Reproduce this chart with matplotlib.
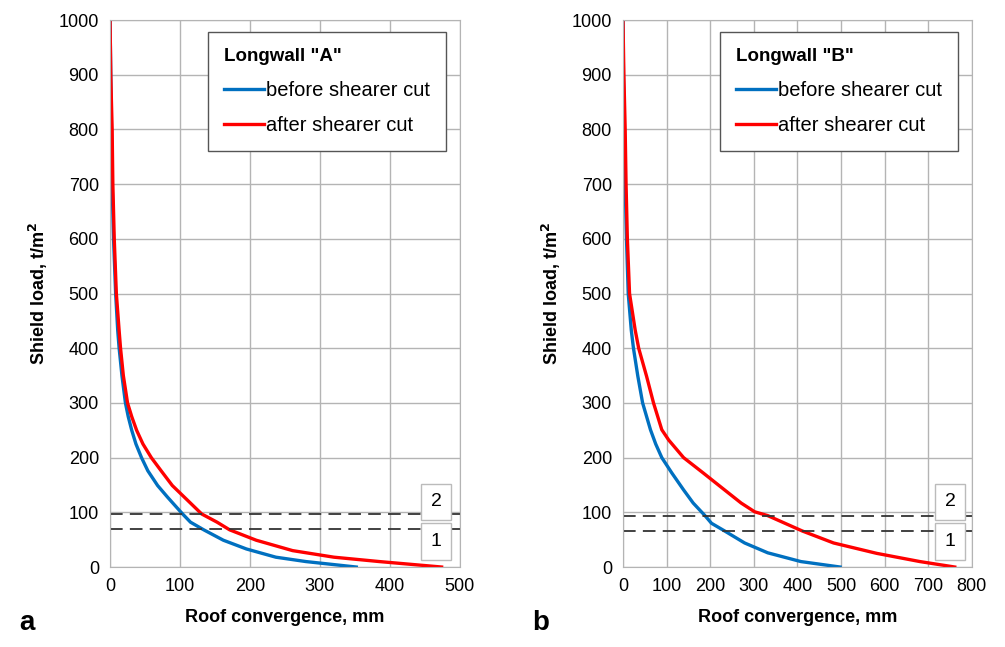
import matplotlib.pyplot as plt
import numpy as np

plt.rcParams['font.family'] = ['Liberation Sans', 'DejaVu Sans']

# Longwall "A": shield load (t/m2) vs roof convergence (mm)
a_before_y = [1000, 900, 800, 700, 600, 500, 432, 400, 350, 300, 275, 250, 225, 200, 176, 149, 128,
              98, 82, 68, 49, 33, 18, 10, 0]
a_before_x = [0, 1, 2, 3, 5, 8, 11, 13, 17, 22, 26, 31, 37, 45, 54, 68, 82,
              103, 115, 134, 162, 195, 237, 280, 352]
a_after_y = [1000, 900, 800, 700, 600, 500, 432, 400, 350, 300, 275, 250, 225, 200, 176, 149, 128,
             97, 82, 68, 49, 30, 18, 10, 0]
a_after_x = [0, 1, 3, 4, 6, 9, 13, 15, 19, 25, 31, 38, 47, 59, 73, 89, 106,
             131, 153, 171, 209, 261, 320, 385, 474]

# Longwall "B"
b_before_y = [1000, 900, 800, 700, 600, 500, 433, 400, 349, 300, 251, 225, 200, 172, 141, 117,
              94, 80, 66, 44, 26, 10, 0]
b_before_x = [0, 1, 3, 5, 8, 12, 19, 24, 34, 45, 63, 75, 89, 112, 139, 161,
              188, 203, 233, 279, 332, 408, 498]
b_after_y = [1000, 900, 800, 700, 600, 500, 433, 400, 349, 300, 251, 232, 200, 172, 141,
             117, 101, 94, 66, 44, 25, 10, 0]
b_after_x = [0, 2, 5, 7, 10, 15, 28, 36, 54, 70, 89, 105, 139, 184, 233,
             271, 302, 332, 411, 483, 582, 681, 761]

# dashed threshold levels [level 2, level 1]
a_levels = [97, 70]
b_levels = [93, 66]

BLUE = '#0070c0'
RED = '#ff0000'


def panel(ax, bx, by, rx, ry, levels, xmax, title, box_x, letter):
    ax.plot(bx, by, color=BLUE, lw=2.4, label='before shearer cut', solid_joinstyle='round')
    ax.plot(rx, ry, color=RED, lw=2.4, label='after shearer cut', solid_joinstyle='round')
    for lv in levels:
        ax.axhline(lv, color='#333333', lw=1.3, ls=(0, (7, 4)))
    ax.set_xlim(0, xmax)
    ax.set_ylim(0, 1000)
    ax.set_xticks(np.arange(0, xmax + 1, 100))
    ax.set_yticks(np.arange(0, 1001, 100))
    ax.grid(True, color='#b4b4b4', lw=1)
    ax.tick_params(length=0, labelsize=13, pad=8)
    for s in ax.spines.values():
        s.set_color('#b4b4b4')
    ax.set_ylabel('Shield load, t/m$^\\mathbf{2}$', fontsize=13, fontweight='bold', labelpad=6)
    ax.set_xlabel('Roof convergence, mm', fontsize=13, fontweight='bold', labelpad=10)
    for txt, yy in (('2', 119), ('1', 47)):
        ax.text(box_x, yy, txt, ha='center', va='center', fontsize=14,
                bbox=dict(boxstyle='square,pad=0.5', fc='white', ec='#bbbbbb', lw=1))
    leg = ax.legend(title=title, loc='upper right', bbox_to_anchor=(0.99, 0.997),
                    fontsize=14.5, title_fontproperties={'weight': 'bold', 'size': 13.5},
                    alignment='left', handlelength=2.0, handletextpad=0.1,
                    borderpad=0.8, labelspacing=0.8, fancybox=False, edgecolor='#555555',
                    framealpha=1)
    leg.get_frame().set_linewidth(1)
    ax.text(-0.26, -0.115, letter, transform=ax.transAxes, fontsize=20, fontweight='bold')


fig = plt.figure(figsize=(10.05, 6.47), dpi=100)
ax1 = fig.add_axes([0.1095, 0.1236, 0.348, 0.8454])
ax2 = fig.add_axes([0.6199, 0.1236, 0.347, 0.8454])

panel(ax1, a_before_x, a_before_y, a_after_x, a_after_y, a_levels, 500, 'Longwall "A"', 466, 'a')
panel(ax2, b_before_x, b_before_y, b_after_x, b_after_y, b_levels, 800, 'Longwall "B"', 750, 'b')

fig.savefig('out.png', dpi=100)
